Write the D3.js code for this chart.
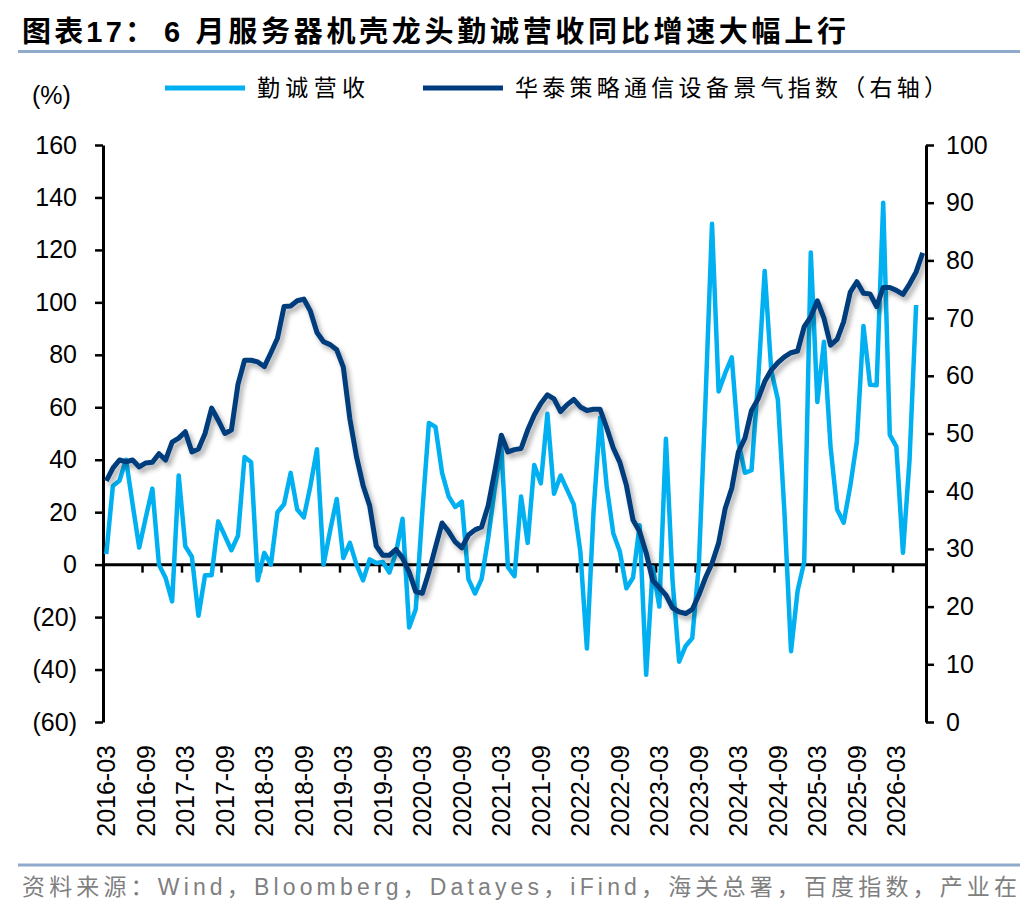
<!DOCTYPE html>
<html>
<head>
<meta charset="utf-8">
<script src="https://cdn.jsdelivr.net/npm/d3@7/dist/d3.min.js"></script>
<style>
body { margin: 0; background: #fff; }
svg { display: block; }
</style>
</head>
<body>
<script>
// categories: one per month, first one and how many
var startMonth = "2016-03";
var monthCount = 125;

// labels under the x axis (every 6th month)
var tickLabels = ["2016-03", "2016-09", "2017-03", "2017-09", "2018-03", "2018-09", "2019-03",
  "2019-09", "2020-03", "2020-09", "2021-03", "2021-09", "2022-03", "2022-09", "2023-03",
  "2023-09", "2024-03", "2024-09", "2025-03", "2025-09", "2026-03"];

var leftTicks = [-60, -40, -20, 0, 20, 40, 60, 80, 100, 120, 140, 160];
var rightTicks = [0, 10, 20, 30, 40, 50, 60, 70, 80, 90, 100];

// 勤诚营收 yoy (%), 2016-03 .. 2026-06, left axis
var revenueYoY = [
  4, 30, 32, 40, 23, 6.5, 18, 29, 0, -5,
  -14, 34, 7, 3, -19.5, -4, -4, 16.5, 11, 5.5,
  11, 41, 39, -6, 4.5, 0, 20, 23, 35, 21,
  18, 30, 44, 0, 13, 25, 2.5, 8.3, 0, -6,
  2, 0.6, 1, -3, 4.5, 17.5, -24, -17, 20, 54,
  52.5, 35, 26, 22, 24, -5.5, -11, -5.5, 10, 29,
  45, -1, -4.4, 26, 8.3, 38, 31, 57.5, 27, 34,
  28.5, 23, 5, -32, 20, 56, 30, 12, 5, -9,
  -5, 15, -42, -1, -16, 48, -6, -37, -31, -28,
  0, 62, 130, 66, 73, 79, 47, 35, 36, 70,
  112, 74, 63, 20, -33, -10, 1, 119, 62, 85,
  45, 21, 16, 30, 47, 91, 68.6, 68.4, 138, 49.5,
  45, 4.5, 40, 99
];

// 华泰策略通信设备景气指数, 2016-03 .. 2026-07, right axis
var boomIndex = [
  41.8, 44.0, 45.4, 45.1, 45.4, 44.2, 44.9, 45.0, 46.5, 45.4,
  48.5, 49.2, 50.3, 46.8, 47.3, 50.0, 54.4, 52.3, 50.0, 50.6,
  58.5, 62.7, 62.7, 62.4, 61.6, 64.0, 66.5, 72.0, 72.1, 73.0,
  73.3, 71.2, 67.5, 65.9, 65.4, 64.5, 61.5, 52.5, 46.0, 41.0,
  37.5, 30.5, 28.9, 28.9, 29.9, 28.4, 26.0, 22.6, 22.3, 26.0,
  30.3, 34.5, 33.0, 31.2, 30.2, 32.4, 33.3, 33.8, 37.5, 43.4,
  49.7, 46.8, 47.2, 47.4, 50.6, 53.2, 55.2, 56.7, 56.0, 53.8,
  55.0, 55.9, 54.6, 54.0, 54.2, 54.2, 51.0, 47.5, 45.0, 41.0,
  35.0, 33.0, 29.3, 24.5, 23.3, 22.0, 19.8, 19.1, 18.8, 19.5,
  22.0, 25.0, 27.5, 31.0, 37.0, 40.5, 46.8, 49.2, 54.0, 56.0,
  59.0, 61.0, 62.3, 63.3, 64.0, 64.3, 68.5, 70.2, 73.0, 70.0,
  65.3, 66.3, 69.4, 74.5, 76.3, 74.3, 74.2, 72.0, 75.3, 75.3,
  74.8, 74.1, 75.9, 78.0, 81.3
];

var lightBlue = "#00b0f0";
var darkBlue = "#003c7d";
var ruleColor = "#8faacb";
var latin = "'Liberation Sans', Arial, 'Noto Sans CJK SC', sans-serif";
var cjk = "'Noto Sans CJK SC', 'Liberation Sans', sans-serif";

var parseMonth = d3.timeParse("%Y-%m");
var fmtMonth = d3.timeFormat("%Y-%m");
var first = parseMonth(startMonth);
var months = d3.timeMonth.range(first, d3.timeMonth.offset(first, monthCount)).map(fmtMonth);

var svg = d3.select("body")
  .append("svg")
  .attr("width", 1036)
  .attr("height", 912);

svg.append("rect").attr("width", 1036).attr("height", 912).attr("fill", "#fff");

// drop shadow for the index line
var shadow = svg.append("defs").append("filter")
  .attr("id", "shadow")
  .attr("x", "-5%").attr("y", "-10%")
  .attr("width", "115%").attr("height", "130%");
shadow.append("feDropShadow")
  .attr("dx", 3).attr("dy", 4)
  .attr("stdDeviation", 2.6)
  .attr("flood-color", "#000")
  .attr("flood-opacity", 0.33);

// scales
var x = d3.scaleBand().domain(months).range([103, 926]);
function cx(m) { return x(m) + x.bandwidth() / 2; }
var yL = d3.scaleLinear().domain([-60, 160]).range([722, 145]);
var yR = d3.scaleLinear().domain([0, 100]).range([722, 145]);

// title + rules
svg.append("text")
  .attr("x", 22).attr("y", 42)
  .attr("textLength", 132).attr("lengthAdjust", "spacing")
  .attr("font-family", latin).attr("font-weight", "bold")
  .attr("font-size", 29).attr("fill", "#000")
  .text("图表17：");
svg.append("text")
  .attr("x", 164).attr("y", 42)
  .attr("textLength", 682).attr("lengthAdjust", "spacing")
  .attr("font-family", latin).attr("font-weight", "bold")
  .attr("font-size", 29).attr("fill", "#000")
  .text("6 月服务器机壳龙头勤诚营收同比增速大幅上行");

svg.append("line")
  .attr("x1", 18).attr("x2", 1020).attr("y1", 51.5).attr("y2", 51.5)
  .attr("stroke", ruleColor).attr("stroke-width", 3);
svg.append("line")
  .attr("x1", 18).attr("x2", 1020).attr("y1", 865).attr("y2", 865)
  .attr("stroke", ruleColor).attr("stroke-width", 3);

svg.append("text")
  .attr("x", 22).attr("y", 895)
  .attr("textLength", 995).attr("lengthAdjust", "spacing")
  .attr("font-family", latin).attr("font-size", 23).attr("fill", "#7f7f7f")
  .text("资料来源：Wind，Bloomberg，Datayes，iFind，海关总署，百度指数，产业在");

// legend
var legend = [
  {name: "勤诚营收", color: lightBlue, x1: 165, tx: 257, len: 108},
  {name: "华泰策略通信设备景气指数（右轴）", color: darkBlue, x1: 423, tx: 515, len: 432}
];
legend.forEach(function(d) {
  svg.append("line")
    .attr("x1", d.x1).attr("x2", d.x1 + 80).attr("y1", 88).attr("y2", 88)
    .attr("stroke", d.color).attr("stroke-width", 5);
  svg.append("text")
    .attr("x", d.tx).attr("y", 96)
    .attr("textLength", d.len).attr("lengthAdjust", "spacing")
    .attr("font-family", cjk).attr("font-size", 23).attr("fill", "#000")
    .text(d.name);
});

svg.append("text")
  .attr("x", 32).attr("y", 104)
  .attr("font-family", latin).attr("font-size", 25).attr("fill", "#000")
  .text("(%)");

// y axes
function fmtLeft(v) { return v < 0 ? "(" + (-v) + ")" : String(v); }

var leftAxis = svg.append("g")
  .attr("transform", "translate(103,0)")
  .call(d3.axisLeft(yL).tickValues(leftTicks).tickFormat(fmtLeft)
    .tickSize(8).tickSizeOuter(0).tickPadding(18));
var rightAxis = svg.append("g")
  .attr("transform", "translate(926,0)")
  .call(d3.axisRight(yR).tickValues(rightTicks)
    .tickSize(8).tickSizeOuter(0).tickPadding(12));

[leftAxis, rightAxis].forEach(function(g) {
  g.select(".domain").attr("stroke", "#000").attr("stroke-width", 3);
  g.selectAll(".tick line").attr("stroke", "#000").attr("stroke-width", 2.5);
  g.selectAll(".tick text")
    .attr("font-family", latin).attr("font-size", 25).attr("fill", "#000");
});

// x axis sits on the zero line
var y0 = yL(0);
var xAxis = svg.append("g");
xAxis.append("line")
  .attr("x1", 103).attr("x2", 926).attr("y1", y0).attr("y2", y0)
  .attr("stroke", "#000").attr("stroke-width", 3);
xAxis.selectAll("line.tick")
  .data(months.filter(function(m, i) { return i > 0 && i % 6 === 0; }))
  .enter()
  .append("line")
  .attr("class", "tick")
  .attr("x1", function(m) { return x(m); })
  .attr("x2", function(m) { return x(m); })
  .attr("y1", y0).attr("y2", y0 + 8)
  .attr("stroke", "#000").attr("stroke-width", 2.5);

svg.append("g").selectAll("text")
  .data(tickLabels)
  .enter()
  .append("text")
  .attr("transform", function(d) { return "translate(" + cx(d) + ",745) rotate(-90)"; })
  .attr("text-anchor", "end")
  .attr("dy", "0.35em")
  .attr("font-family", latin).attr("font-size", 25).attr("fill", "#000")
  .text(function(d) { return d; });

// series
var lineL = d3.line()
  .x(function(d, i) { return cx(months[i]); })
  .y(function(d) { return yL(d); });
var lineR = d3.line()
  .x(function(d, i) { return cx(months[i]); })
  .y(function(d) { return yR(d); });

svg.append("path")
  .datum(revenueYoY)
  .attr("d", lineL)
  .attr("fill", "none")
  .attr("stroke", lightBlue)
  .attr("stroke-width", 4.5)
  .attr("stroke-linejoin", "round");

svg.append("path")
  .datum(boomIndex)
  .attr("d", lineR)
  .attr("fill", "none")
  .attr("stroke", darkBlue)
  .attr("stroke-width", 5)
  .attr("stroke-linejoin", "round")
  .attr("filter", "url(#shadow)");
</script>
</body>
</html>
